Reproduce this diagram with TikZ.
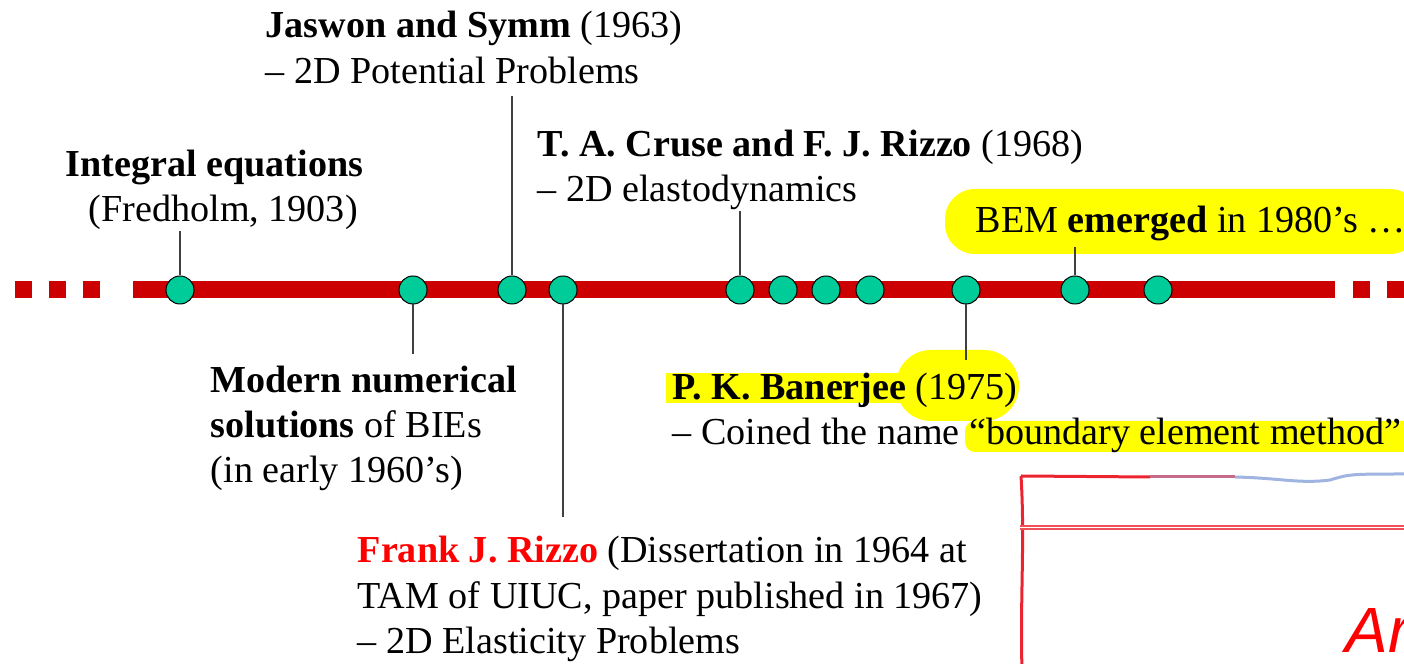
\documentclass[tikz,border=0pt]{standalone}
\usepackage{fontspec}
\setmainfont{Liberation Serif}
\setsansfont{Liberation Sans}
\usetikzlibrary{positioning}

\definecolor{barred}{RGB}{204,0,0}
\definecolor{dotgreen}{RGB}{0,204,153}
\definecolor{hilite}{RGB}{255,255,0}
\definecolor{inkred}{RGB}{255,0,0}
\definecolor{boxred}{RGB}{236,36,48}
\definecolor{boxblue}{RGB}{160,180,225}

\begin{document}
\begin{tikzpicture}[x=0.1mm, y=-0.1mm,
    event/.style={circle, draw=black, line width=0.1mm, fill=dotgreen, minimum size=2.8mm, inner sep=0pt},
    txt/.style={anchor=base west, inner sep=0pt, font=\fontsize{10.85}{13}\selectfont},
    stem/.style={draw=black!75, line width=0.13mm},
    timeline/.style={draw=barred, line width=1.7mm},
    marker/.style={fill=hilite}
]
\path[use as bounding box, clip] (0,0) rectangle (1404,664);

% Highlighter marks
\fill[marker, rounded corners=3mm] (945,189) rectangle (1420,254);
\fill[marker] (666,373) rectangle (905,403);
\fill[marker, rounded corners=3.5mm] (896,350) rectangle (1019,421);
\fill[marker, rounded corners=1mm] (965,421) rectangle (1420,452);

% Timeline
\draw[timeline, dash pattern=on 1.7mm off 1.7mm] (15,290) -- (100,290);
\draw[timeline] (133,290) -- (1335,290);
\draw[timeline, dash pattern=on 1.7mm off 1.7mm] (1353,290) -- (1430,290);

% Events
\node[event] (ieq) at (180,290) {};
\node[event] (modern) at (413,290) {};
\node[event] (jaswon) at (512,290) {};
\node[event] (rizzo) at (563,290) {};
\node[event] (cruse) at (740,290) {};
\node[event] (ev6) at (783,290) {};
\node[event] (ev7) at (826,290) {};
\node[event] (ev8) at (870,290) {};
\node[event] (banerjee) at (966,290) {};
\node[event] (bem) at (1075,290) {};
\node[event] (ev11) at (1158,290) {};

% Labels above
\node[txt] (ieqa) at (65,177) {\textbf{Integral equations}};
\node[txt] (ieqb) at (88,222) {(Fredholm, 1903)};
\node[txt] (jaswona) at (265,38) {\textbf{Jaswon and Symm} (1963)};
\node[txt] (jaswonb) at (265,84) {– 2D Potential Problems};
\node[txt] (crusea) at (537,157) {\textbf{T. A. Cruse and F. J. Rizzo} (1968)};
\node[txt] (cruseb) at (537,202) {– 2D elastodynamics};
\node[txt] (bemtxt) at (975,233) {BEM \textbf{emerged} in 1980’s …};

% Labels below
\node[txt] (moderna) at (210,393) {\textbf{Modern numerical}};
\node[txt] (modernb) at (210,438) {\textbf{solutions} of BIEs};
\node[txt] (modernc) at (210,483) {(in early 1960’s)};
\node[txt] (banerjeea) at (672,400) {\textbf{P. K. Banerjee} (1975)};
\node[txt] (banerjeeb) at (672,445) {– Coined the name “boundary element method”};
\node[txt] (rizzoa) at (357,563) {\textcolor{inkred}{\textbf{Frank J. Rizzo}} (Dissertation in 1964 at};
\node[txt] (rizzob) at (357,609) {TAM of UIUC, paper published in 1967)};
\node[txt] (rizzoc) at (357,654) {– 2D Elasticity Problems};

% Stems
\draw[stem] (ieq.north) -- (ieq |- ieqb.south);
\draw[stem] (modern.south) -- ([yshift=1.2mm]modern |- moderna.north);
\draw[stem] (jaswon.north) -- ([yshift=-1.1mm]jaswon |- jaswonb.south);
\draw[stem] (rizzo.south) -- ([yshift=1.9mm]rizzo |- rizzoa.north);
\draw[stem] (cruse.north) -- (cruse |- cruseb.south);
\draw[stem] (banerjee.south) -- ([yshift=1.3mm]banerjee |- banerjeea.north);
\draw[stem] (bem.north) -- ([yshift=-0.5mm]bem |- bemtxt.south);

% Sketched box
\draw[boxred, line width=0.3mm] (1021,476) .. controls (1025,540) and (1020,600) .. (1022,670);
\draw[boxred, line width=0.3mm] (1021,476) -- (1150,477);
\draw[boxred!50!boxblue, line width=0.3mm] (1150,477) -- (1235,477);
\draw[boxblue, line width=0.3mm] (1235,477) .. controls (1280,478) and (1300,484) .. (1330,480) .. controls (1350,474) .. (1410,474);
\draw[boxred!80, line width=0.45mm] (1020,527.5) -- (1410,527.5);
\draw[white, line width=0.15mm] (1020,527.5) -- (1410,527.5);
\node[anchor=base west, inner sep=0pt, text=inkred, font=\sffamily\itshape\fontsize{18.2}{20}\selectfont] (artxt) at (1345,653) {Ar};
\end{tikzpicture}
\end{document}
